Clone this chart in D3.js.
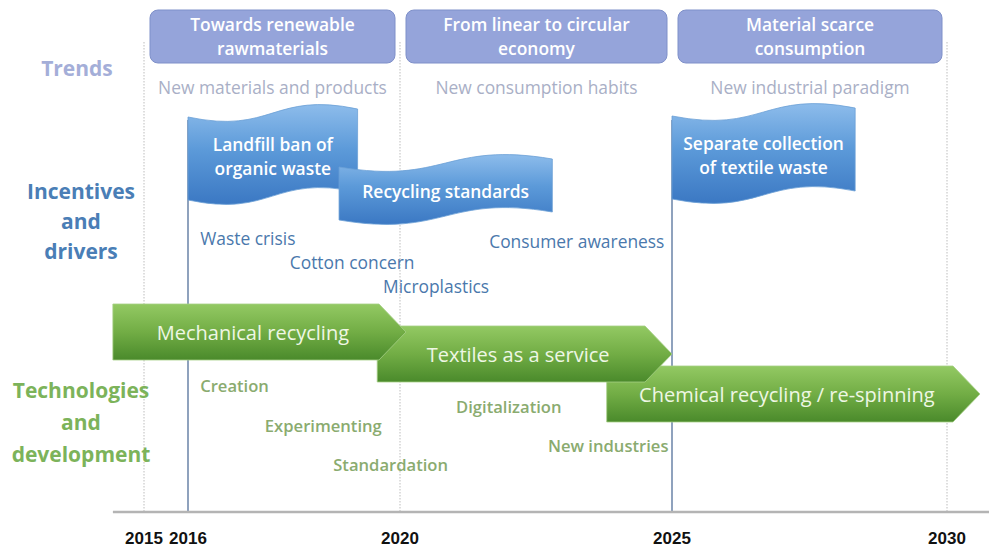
<!DOCTYPE html>
<html>
<head>
<meta charset="utf-8">
<script src="https://cdn.jsdelivr.net/npm/d3@7"></script>
<style>
  html, body { margin: 0; padding: 0; background: #ffffff; }
  svg { display: block; }
  text { font-family: "Open Sans", "Noto Sans", sans-serif; }
</style>
</head>
<body>
<svg id="chart" width="989" height="549"></svg>
<script>
// ---------------- DATA ----------------
const tickYears = [2015, 2016, 2020, 2025, 2030];
const dottedYears = [2015, 2020, 2030];
const poleYears = [2016, 2025];

const trendTitles = [["Towards renewable", "rawmaterials"], ["From linear to circular", "economy"], ["Material scarce", "consumption"]];
const trendSubtitles = ["New materials and products", "New consumption habits", "New industrial paradigm"];
const trendStart = [2015, 2020, 2025];
const trendEnd = [2020, 2025, 2030];

const flagLabels = [["Landfill ban of", "organic waste"], ["Recycling standards"], ["Separate collection", "of textile waste"]];
const flagStart = [2016, 2018.85, 2025];
const flagEnd = [2019.2, 2022.8, 2028.33];

const driverLabels = ["Waste crisis", "Cotton concern", "Microplastics", "Consumer awareness"];
const driverYear = [2016.23, 2017.92, 2019.68, 2021.64];

const techArrowLabels = ["Mechanical recycling", "Textiles as a service", "Chemical recycling / re-spinning"];
const techArrowStart = [2014.39, 2019.57, 2023.8];
const techArrowEnd = [2020.11, 2025, 2030.6];

const techLabels = ["Creation", "Experimenting", "Standardation", "Digitalization", "New industries"];
const techYear = [2016.23, 2017.45, 2018.74, 2021.03, 2022.72];

const rowLabels = [["Trends"], ["Incentives", "and", "drivers"], ["Technologies", "and", "development"]];

// ---------------- LAYOUT (positions / styles) ----------------
const svg = d3.select("#chart");
const x = d3.scaleLinear()
  .domain([2014, 2015, 2016, 2020, 2025, 2030, 2031])
  .range([93, 144, 188, 400, 672, 947, 1002]);

const axisY = 512;
const flagLayout = [{ top: 117, h: 83 }, { top: 167, h: 53 }, { top: 116, h: 83 }];
const driverRowY = [239, 263, 287, 242];
const arrowLayout = [{ top: 304, h: 56 }, { top: 326, h: 56 }, { top: 366, h: 56 }];
const techRowY = [386, 426, 465, 407, 446];
const rowLabelLayout = [
  { cx: 77, ys: [69], color: "#a4aed8" },
  { cx: 81, ys: [192, 222, 252], color: "#4a7eb6" },
  { cx: 81, ys: [391, 423, 455], color: "#7cb35a" }
];

const defs = svg.append("defs");
const gBlue = defs.append("linearGradient").attr("id", "gBlue").attr("x1", 0).attr("y1", 0).attr("x2", 0).attr("y2", 1);
gBlue.append("stop").attr("offset", "0%").attr("stop-color", "#8dbceb");
gBlue.append("stop").attr("offset", "45%").attr("stop-color", "#5c9ad9");
gBlue.append("stop").attr("offset", "100%").attr("stop-color", "#3b78c3");
const gGreen = defs.append("linearGradient").attr("id", "gGreen").attr("x1", 0).attr("y1", 0).attr("x2", 0).attr("y2", 1);
gGreen.append("stop").attr("offset", "0%").attr("stop-color", "#93c963");
gGreen.append("stop").attr("offset", "50%").attr("stop-color", "#72ad45");
gGreen.append("stop").attr("offset", "100%").attr("stop-color", "#4a8a2b");

// dotted vertical guide lines
svg.append("g").selectAll("line").data(dottedYears).join("line")
  .attr("x1", d => x(d)).attr("x2", d => x(d))
  .attr("y1", 42).attr("y2", axisY)
  .attr("stroke", "#bdbdbd").attr("stroke-width", 1).attr("stroke-dasharray", "1.5,1.5");

// pole lines
svg.append("g").selectAll("line").data(poleYears).join("line")
  .attr("x1", d => x(d)).attr("x2", d => x(d))
  .attr("y1", 120).attr("y2", axisY)
  .attr("stroke", "#8fa2bd").attr("stroke-width", 2);

// axis line
svg.append("line").attr("x1", x(2014.39)).attr("x2", 989).attr("y1", axisY).attr("y2", axisY)
  .attr("stroke", "#b4b4b4").attr("stroke-width", 2.5);

// year labels
svg.append("g").selectAll("text").data(tickYears).join("text")
  .attr("x", d => x(d)).attr("y", 538).attr("dy", "0.35em")
  .attr("text-anchor", "middle")
  .style("font-family", "'Liberation Sans Narrow', 'Liberation Sans', sans-serif")
  .style("font-weight", "bold").style("font-size", "17px").attr("fill", "#111")
  .text(d => d);

// row labels
rowLabelLayout.forEach((L, i) => {
  svg.append("g").selectAll("text").data(rowLabels[i]).join("text")
    .attr("x", L.cx).attr("y", (d, j) => L.ys[j]).attr("dy", "0.35em")
    .attr("text-anchor", "middle").attr("fill", L.color)
    .style("font-weight", "bold").style("font-size", "21px")
    .text(d => d);
});

// trend boxes
const trendG = svg.append("g");
trendTitles.forEach((t, i) => {
  const x0 = x(trendStart[i]) + 6, x1 = x(trendEnd[i]) - 5;
  trendG.append("rect").attr("x", x0).attr("y", 10).attr("width", x1 - x0).attr("height", 53)
    .attr("rx", 8).attr("fill", "#95a4da").attr("stroke", "#7f90c9").attr("stroke-width", 1);
  trendG.selectAll(null).data(t).join("text")
    .attr("x", (x0 + x1) / 2).attr("y", (d, j) => 25 + j * 24).attr("dy", "0.35em")
    .attr("text-anchor", "middle").attr("fill", "#ffffff")
    .style("font-weight", "600").style("font-size", "17.4px").text(d => d);
  trendG.append("text")
    .attr("x", (x0 + x1) / 2).attr("y", 88).attr("dy", "0.35em")
    .attr("text-anchor", "middle").attr("fill", "#a9afc6")
    .style("font-size", "17.4px").text(trendSubtitles[i]);
});

// wave flag path
function wavePath(x0, x1, yTop, h, rise, amp) {
  const w = x1 - x0, m = x0 + 0.5 * w;
  const yL = yTop, yR = yTop - rise;
  return `M${x0},${yL} C${m},${yL + amp} ${m},${yR - amp} ${x1},${yR}` +
         ` L${x1},${yR + h} C${m},${yR + h - amp} ${m},${yL + h + amp} ${x0},${yL + h} Z`;
}

// flags
const flagG = svg.append("g");
flagLabels.forEach((lab, i) => {
  const x0 = x(flagStart[i]), x1 = x(flagEnd[i]);
  const L = flagLayout[i];
  flagG.append("path").attr("d", wavePath(x0, x1, L.top, L.h, 8, 18))
    .attr("fill", "url(#gBlue)").attr("stroke", "#6b9fd6").attr("stroke-width", 0.8);
  const cy = L.top - 2 + L.h / 2;
  flagG.selectAll(null).data(lab).join("text")
    .attr("x", (x0 + x1) / 2).attr("y", (d, j) => cy + (j - (lab.length - 1) / 2) * 24).attr("dy", "0.35em")
    .attr("text-anchor", "middle").attr("fill", "#ffffff")
    .style("font-weight", "600").style("font-size", "17.4px").text(d => d);
});

// driver texts
svg.append("g").selectAll("text").data(driverLabels).join("text")
  .attr("x", (d, i) => x(driverYear[i])).attr("y", (d, i) => driverRowY[i]).attr("dy", "0.35em")
  .attr("fill", "#4a78ac").style("font-size", "17.4px").text(d => d);

// tech arrows (draw last first so earlier sit on top)
const arrowG = svg.append("g");
for (let i = techArrowLabels.length - 1; i >= 0; i--) {
  const x0 = x(techArrowStart[i]), xt = x(techArrowEnd[i]);
  const L = arrowLayout[i];
  const head = 27, xb = xt - head;
  const p = d3.path();
  p.moveTo(x0, L.top); p.lineTo(xb, L.top); p.lineTo(xt, L.top + L.h / 2);
  p.lineTo(xb, L.top + L.h); p.lineTo(x0, L.top + L.h); p.closePath();
  arrowG.append("path").attr("d", p.toString())
    .attr("fill", "url(#gGreen)").attr("stroke", "#a6cf86").attr("stroke-width", 0.8);
  arrowG.append("text")
    .attr("x", (x0 + xb) / 2 + 7).attr("y", L.top + L.h / 2 + 1).attr("dy", "0.35em")
    .attr("text-anchor", "middle").attr("fill", "#eef7e4")
    .style("font-size", "20px").text(techArrowLabels[i]);
}

// tech texts
svg.append("g").selectAll("text").data(techLabels).join("text")
  .attr("x", (d, i) => x(techYear[i])).attr("y", (d, i) => techRowY[i]).attr("dy", "0.35em")
  .attr("fill", "#8aab6f").style("font-weight", "600").style("font-size", "16.6px").text(d => d);
</script>
</body>
</html>
